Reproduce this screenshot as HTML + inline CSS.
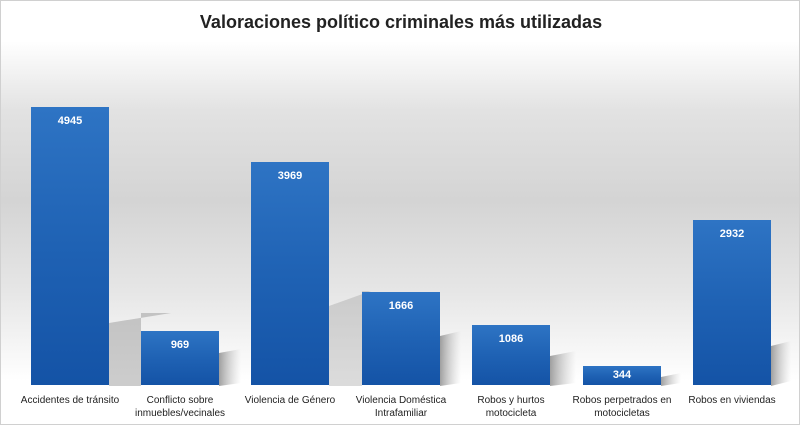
<!DOCTYPE html>
<html><head><meta charset="utf-8"><style>
body{margin:0;width:800px;height:425px;overflow:hidden;font-family:"Liberation Sans",sans-serif;}
.c{position:absolute;left:0;top:0;width:798px;height:423px;border:1px solid #d0d0d0;
background:linear-gradient(to bottom,#fff 0px,#fff 40px,#e2e2e2 110px,#d4d4d4 200px,#e6e6e6 290px,#fff 380px,#fff 425px);}
.t{position:absolute;top:11px;left:0;width:800px;text-align:center;font-size:18px;font-weight:bold;color:#222;}
.b{position:absolute;width:78px;bottom:39px;background:linear-gradient(to bottom,#2e74c4,#1f62b4 50%,#1453a6);}
.b span{position:absolute;top:8px;left:0;width:100%;text-align:center;color:#fff;font-weight:bold;font-size:11px;}
.l{position:absolute;top:393px;width:120px;text-align:center;font-size:10px;color:#222;line-height:13px;}
</style></head><body><div class="c">
<div class="t">Valoraciones político criminales más utilizadas</div>
<svg width="800" height="425" style="position:absolute;left:0;top:0">
<defs><linearGradient id="g" x1="0" x2="1"><stop offset="0" stop-color="#888" stop-opacity=".8"/><stop offset="1" stop-color="#bbb" stop-opacity="0"/></linearGradient></defs>
<polygon points="108,385 108,322 170,312 140,312 140,385" fill="#999" opacity=".5"/>
<polygon points="218,385 218,352 240,348 240,382" fill="url(#g)"/>
<polygon points="328,385 328,305 370,290 361,290 361,385" fill="#999" opacity=".35"/>
<polygon points="439,385 439,335 460,330 460,382" fill="url(#g)"/>
<polygon points="549,385 549,355 575,350 575,382" fill="url(#g)"/>
<polygon points="660,385 660,376 680,372 680,382" fill="url(#g)"/>
<polygon points="770,385 770,345 790,340 790,380" fill="url(#g)"/>
</svg>
<div class="b" style="left:30px;height:278px"><span>4945</span></div>
<div class="b" style="left:140px;height:54px"><span>969</span></div>
<div class="b" style="left:250px;height:223px"><span>3969</span></div>
<div class="b" style="left:361px;height:93px"><span>1666</span></div>
<div class="b" style="left:471px;height:60px"><span>1086</span></div>
<div class="b" style="left:582px;height:19px"><span style="top:3px">344</span></div>
<div class="b" style="left:692px;height:165px"><span>2932</span></div>
<div class="l" style="left:9px">Accidentes de tránsito</div>
<div class="l" style="left:119px">Conflicto sobre inmuebles/vecinales</div>
<div class="l" style="left:229px">Violencia de Género</div>
<div class="l" style="left:340px">Violencia Doméstica Intrafamiliar</div>
<div class="l" style="left:450px;width:120px">Robos y hurtos motocicleta</div>
<div class="l" style="left:561px">Robos perpetrados en motocicletas</div>
<div class="l" style="left:671px">Robos en viviendas</div>
</div></body></html>
